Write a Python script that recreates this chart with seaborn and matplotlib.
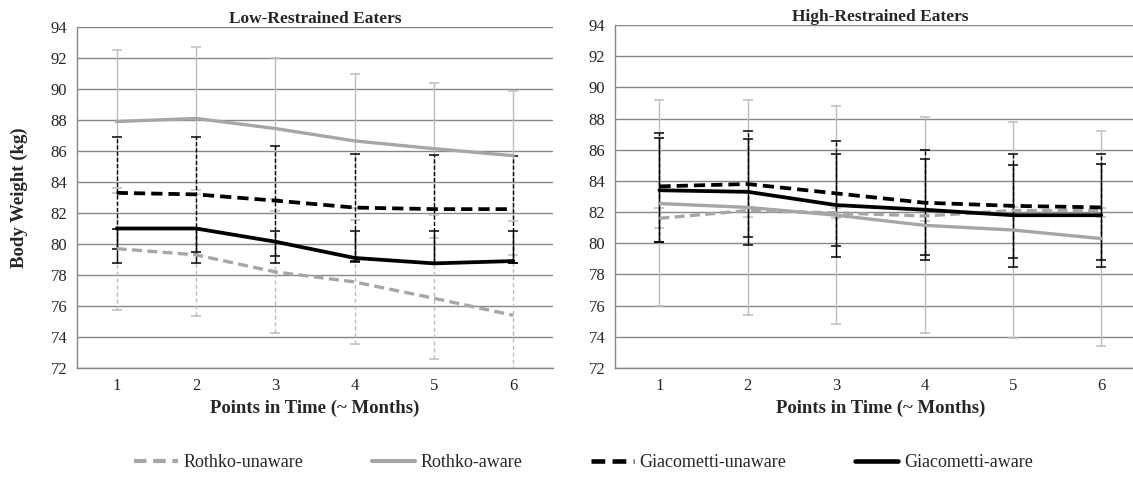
import numpy as np
import pandas as pd
import matplotlib
matplotlib.use("Agg")
import matplotlib.pyplot as plt
import seaborn as sns
from matplotlib.lines import Line2D

sns.set_theme(style="white")
plt.rcParams["font.family"] = ["Liberation Serif", "DejaVu Serif"]

# data
months = [1, 2, 3, 4, 5, 6]
groups = ["Rothko-unaware", "Rothko-aware", "Giacometti-unaware", "Giacometti-aware"]

# low-restrained eaters
low_rothko_unaware = [79.7, 79.3, 78.2, 77.55, 76.5, 75.4]
low_rothko_unaware_hi = [83.6, 83.25, 82.1, 81.55, 80.4, 79.3]
low_rothko_unaware_lo = [75.75, 75.35, 74.25, 73.55, 72.6, 71.4]
low_rothko_aware = [87.9, 88.1, 87.45, 86.65, 86.15, 85.7]
low_rothko_aware_hi = [92.5, 92.7, 92.0, 91.0, 90.4, 89.9]
low_rothko_aware_lo = [83.3, 83.5, 82.9, 82.3, 81.9, 81.5]
low_giac_unaware = [83.3, 83.2, 82.8, 82.35, 82.25, 82.25]
low_giac_unaware_hi = [86.9, 86.9, 86.35, 85.8, 85.75, 85.7]
low_giac_unaware_lo = [79.7, 79.5, 79.25, 78.9, 78.75, 78.8]
low_giac_aware = [81.0, 81.0, 80.15, 79.1, 78.75, 78.9]
low_giac_aware_hi = [81.0, 81.0, 80.85, 80.85, 80.85, 80.85]
low_giac_aware_lo = [78.8, 78.8, 78.8, 78.85, 78.8, 78.8]

# high-restrained eaters
high_rothko_unaware = [81.6, 82.1, 81.95, 81.75, 82.1, 82.1]
high_rothko_unaware_hi = [82.25, 82.3, 82.25, 82.1, 82.3, 82.25]
high_rothko_unaware_lo = [81.0, 81.7, 81.6, 81.4, 81.85, 81.7]
high_rothko_aware = [82.55, 82.3, 81.8, 81.15, 80.85, 80.3]
high_rothko_aware_hi = [89.2, 89.2, 88.8, 88.1, 87.8, 87.2]
high_rothko_aware_lo = [75.95, 75.4, 74.8, 74.25, 73.95, 73.4]
high_giac_unaware = [83.65, 83.8, 83.2, 82.6, 82.4, 82.3]
high_giac_unaware_hi = [87.05, 87.2, 86.55, 86.0, 85.75, 85.7]
high_giac_unaware_lo = [80.1, 80.4, 79.85, 79.25, 79.05, 78.9]
high_giac_aware = [83.4, 83.3, 82.45, 82.15, 81.8, 81.8]
high_giac_aware_hi = [86.75, 86.7, 85.75, 85.4, 85.05, 85.1]
high_giac_aware_lo = [80.1, 79.9, 79.15, 78.9, 78.5, 78.45]

yticks = list(range(72, 95, 2))

# styles
line_colors = {"Rothko-unaware": "#A6A6A6", "Rothko-aware": "#A6A6A6",
               "Giacometti-unaware": "#000000", "Giacometti-aware": "#000000"}
err_colors = {"Rothko-unaware": "#BDBDBD", "Rothko-aware": "#BDBDBD",
              "Giacometti-unaware": "#000000", "Giacometti-aware": "#000000"}
dash_map = {"Rothko-unaware": (3, 1.6), "Rothko-aware": "",
            "Giacometti-unaware": (3, 1.6), "Giacometti-aware": ""}
err_ls = {"Rothko-unaware": (0, (3, 2)), "Rothko-aware": "-",
          "Giacometti-unaware": (0, (3, 1.5)), "Giacometti-aware": "-"}
widths = {"Rothko-unaware": 2.4, "Rothko-aware": 2.4,
          "Giacometti-unaware": 2.7, "Giacometti-aware": 2.7}

panels = [
    ("Low-Restrained Eaters",
     {"Rothko-unaware": (low_rothko_unaware, low_rothko_unaware_lo, low_rothko_unaware_hi),
      "Rothko-aware": (low_rothko_aware, low_rothko_aware_lo, low_rothko_aware_hi),
      "Giacometti-unaware": (low_giac_unaware, low_giac_unaware_lo, low_giac_unaware_hi),
      "Giacometti-aware": (low_giac_aware, low_giac_aware_lo, low_giac_aware_hi)}),
    ("High-Restrained Eaters",
     {"Rothko-unaware": (high_rothko_unaware, high_rothko_unaware_lo, high_rothko_unaware_hi),
      "Rothko-aware": (high_rothko_aware, high_rothko_aware_lo, high_rothko_aware_hi),
      "Giacometti-unaware": (high_giac_unaware, high_giac_unaware_lo, high_giac_unaware_hi),
      "Giacometti-aware": (high_giac_aware, high_giac_aware_lo, high_giac_aware_hi)}),
]

fig = plt.figure(figsize=(11.33, 5.0), dpi=100)
ax_left = fig.add_axes([0.068, 0.264, 0.420, 0.682])
ax_right = fig.add_axes([0.543, 0.264, 0.468, 0.686])

for ax, (title, series) in zip([ax_left, ax_right], panels):
    rows = []
    for g in groups:
        mean, lo, hi = series[g]
        for m, v in zip(months, mean):
            rows.append({"time": m, "weight": v, "group": g})
    df = pd.DataFrame(rows)

    # error bars first, gray behind black
    for g in groups:
        mean, lo, hi = series[g]
        ax.vlines(months, lo, hi, colors=err_colors[g], linestyles=err_ls[g],
                  linewidth=1.0, zorder=2)
        ax.plot(months, hi, linestyle="none", marker="_", markersize=7,
                markeredgewidth=1.1, color=err_colors[g], zorder=2)
        ax.plot(months, lo, linestyle="none", marker="_", markersize=7,
                markeredgewidth=1.1, color=err_colors[g], zorder=2)

    sns.lineplot(data=df, x="time", y="weight", hue="group", style="group",
                 size="group", hue_order=groups, style_order=groups, size_order=groups,
                 palette=line_colors, dashes=dash_map, sizes=widths,
                 legend=False, ax=ax, zorder=3)

    ax.set_xlim(0.5, 6.5)
    ax.set_ylim(72, 94)
    ax.set_yticks(yticks)
    ax.set_yticklabels([str(t) for t in yticks], fontsize=12)
    ax.set_xticks(np.arange(0.5, 6.6, 1.0))
    ax.set_xticklabels([])
    ax.set_xticks(months, minor=True)
    ax.set_xticklabels([str(m) for m in months], minor=True, fontsize=12)
    ax.tick_params(axis="x", which="major", direction="out", length=5,
                   color="#878787", width=1)
    ax.tick_params(axis="x", which="minor", length=0, pad=7)
    ax.tick_params(axis="y", direction="out", length=4, color="#878787", width=1, pad=3)
    ax.grid(axis="y", color="#878787", linewidth=1.0)
    ax.set_axisbelow(True)
    for side in ["top", "right"]:
        ax.spines[side].set_visible(False)
    for side in ["left", "bottom"]:
        ax.spines[side].set_color("#878787")
        ax.spines[side].set_linewidth(1.0)
    ax.set_title(title, fontsize=12.5, fontweight="bold", pad=3)
    ax.set_xlabel("Points in Time (~ Months)", fontsize=13.5, fontweight="bold", labelpad=4)
    ax.set_ylabel("")

ax_left.set_ylabel("Body Weight (kg)", fontsize=13.5, fontweight="bold", labelpad=16)

handles = [Line2D([0], [0], color=line_colors[g], linewidth=widths[g] + 0.6,
                  linestyle=(0, dash_map[g]) if dash_map[g] else "-")
           for g in groups]
fig.legend(handles, groups, loc="center", bbox_to_anchor=(0.515, 0.075), ncol=4,
           frameon=False, fontsize=13, handlelength=2.4, handletextpad=0.3,
           columnspacing=3.8)

fig.savefig("out.png", dpi=100)
